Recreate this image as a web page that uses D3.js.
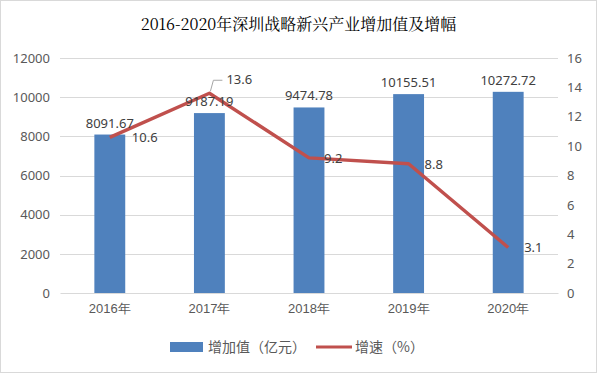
<!DOCTYPE html>
<html>
<head>
<meta charset="utf-8">
<script src="https://cdn.jsdelivr.net/npm/d3@7"></script>
<style>
  html, body { margin: 0; padding: 0; background: #fff; }
  svg { display: block; font-family: "Noto Sans CJK SC", "Noto Sans", sans-serif; }
</style>
</head>
<body>
<div id="chart"></div>
<script>
const years = ["2016年", "2017年", "2018年", "2019年", "2020年"]
const added = [8091.67, 9187.19, 9474.78, 10155.51, 10272.72]
const growth = [10.6, 13.6, 9.2, 8.8, 3.1]
const leftTicks = [0, 2000, 4000, 6000, 8000, 10000, 12000]
const rightTicks = [0, 2, 4, 6, 8, 10, 12, 14, 16]

const width = 597
const height = 373
const margin = { top: 58, right: 39, bottom: 80, left: 60 }

const svg = d3.select("#chart").append("svg")
    .attr("width", width)
    .attr("height", height)

svg.append("rect")
    .attr("x", 0.5).attr("y", 0.5)
    .attr("width", width - 1).attr("height", height - 1)
    .attr("fill", "#fff")
    .attr("stroke", "#d9d9d9")

svg.append("text")
    .attr("x", width / 2)
    .attr("y", 30)
    .attr("text-anchor", "middle")
    .attr("font-size", 16)
    .attr("fill", "#000")
    .style("font-family", "'Noto Serif CJK SC', 'DejaVu Serif', 'Noto Sans CJK SC', serif")
    .text("2016-2020年深圳战略新兴产业增加值及增幅")

const x = d3.scaleBand()
    .domain(years)
    .range([margin.left, width - margin.right])
    .paddingInner(0.69)
    .paddingOuter(0.345)

const y = d3.scaleLinear().domain([0, 12000]).range([height - margin.bottom, margin.top])
const y2 = d3.scaleLinear().domain([0, 16]).range([height - margin.bottom, margin.top])

// grid
svg.append("g")
    .selectAll("line")
    .data(leftTicks.slice(1))
    .join("line")
    .attr("x1", margin.left).attr("x2", width - margin.right)
    .attr("y1", d => Math.round(y(d)) + 0.5).attr("y2", d => Math.round(y(d)) + 0.5)
    .attr("stroke", "#d9d9d9")

// left axis
const axL = svg.append("g")
    .attr("transform", `translate(${margin.left},0)`)
    .call(d3.axisLeft(y).tickValues(leftTicks).tickFormat(d3.format("d")).tickSize(0).tickPadding(10))
axL.select(".domain").remove()
axL.selectAll("text").attr("font-size", 13).attr("fill", "#595959").style("font-family", "'Noto Sans', sans-serif")

// right axis
const axR = svg.append("g")
    .attr("transform", `translate(${width - margin.right},0)`)
    .call(d3.axisRight(y2).tickValues(rightTicks).tickFormat(d3.format("d")).tickSize(0).tickPadding(9))
axR.select(".domain").remove()
axR.selectAll("text").attr("font-size", 13).attr("fill", "#595959").style("font-family", "'Noto Sans', sans-serif")

// bars
svg.append("g")
    .selectAll("rect")
    .data(added)
    .join("rect")
    .attr("x", (d, i) => x(years[i]))
    .attr("y", d => y(d))
    .attr("width", x.bandwidth())
    .attr("height", d => y(0) - y(d))
    .attr("fill", "#4f81bd")

// bottom axis
const axB = svg.append("g")
    .attr("transform", `translate(0,${height - margin.bottom})`)
    .call(d3.axisBottom(x).tickSize(0).tickPadding(11))
axB.select(".domain").attr("stroke", "#d9d9d9")
axB.selectAll("text").attr("font-size", 13).attr("fill", "#595959")

const cx = (d, i) => x(years[i]) + x.bandwidth() / 2

// line
svg.append("path")
    .datum(growth)
    .attr("fill", "none")
    .attr("stroke", "#c0504d")
    .attr("stroke-width", 3.5)
    .attr("stroke-linejoin", "round")
    .attr("d", d3.line().x(cx).y(d => y2(d)))

// bar labels
svg.append("g")
    .selectAll("text")
    .data(added)
    .join("text")
    .attr("x", cx)
    .attr("y", d => y(d) - 7)
    .attr("text-anchor", "middle")
    .attr("font-size", 13)
    .attr("fill", "#404040")
    .style("font-family", "'Noto Sans', sans-serif")
    .text(d => d.toFixed(2))

// line labels
const lblOff = [[22, 5], [17, -9], [15, 5], [16, 5], [16, 5]]
svg.append("g")
    .selectAll("text")
    .data(growth)
    .join("text")
    .attr("x", (d, i) => cx(d, i) + lblOff[i][0])
    .attr("y", (d, i) => y2(d) + lblOff[i][1])
    .attr("font-size", 13)
    .attr("fill", "#404040")
    .style("font-family", "'Noto Sans', sans-serif")
    .text(d => d.toFixed(1))

// leader for 13.6
const px = cx(0, 1), py = y2(growth[1])
svg.append("polyline")
    .attr("points", [[px + 1, py - 2], [px + 4, py - 13], [px + 13, py - 13]].map(p => p.join(",")).join(" "))
    .attr("fill", "none")
    .attr("stroke", "#a6a6a6")
    .attr("stroke-width", 1)

// legend
const lg = svg.append("g").attr("transform", "translate(0,347)")
lg.append("rect").attr("x", 170).attr("y", -5).attr("width", 33).attr("height", 10).attr("fill", "#4f81bd")
lg.append("text").attr("x", 208).attr("y", 5).attr("font-size", 14).attr("fill", "#595959").text("增加值（亿元）")
lg.append("line").attr("x1", 316).attr("x2", 352).attr("y1", 0).attr("y2", 0).attr("stroke", "#c0504d").attr("stroke-width", 3)
lg.append("text").attr("x", 355).attr("y", 5).attr("font-size", 14).attr("fill", "#595959").text("增速（%）")
</script>
</body>
</html>
